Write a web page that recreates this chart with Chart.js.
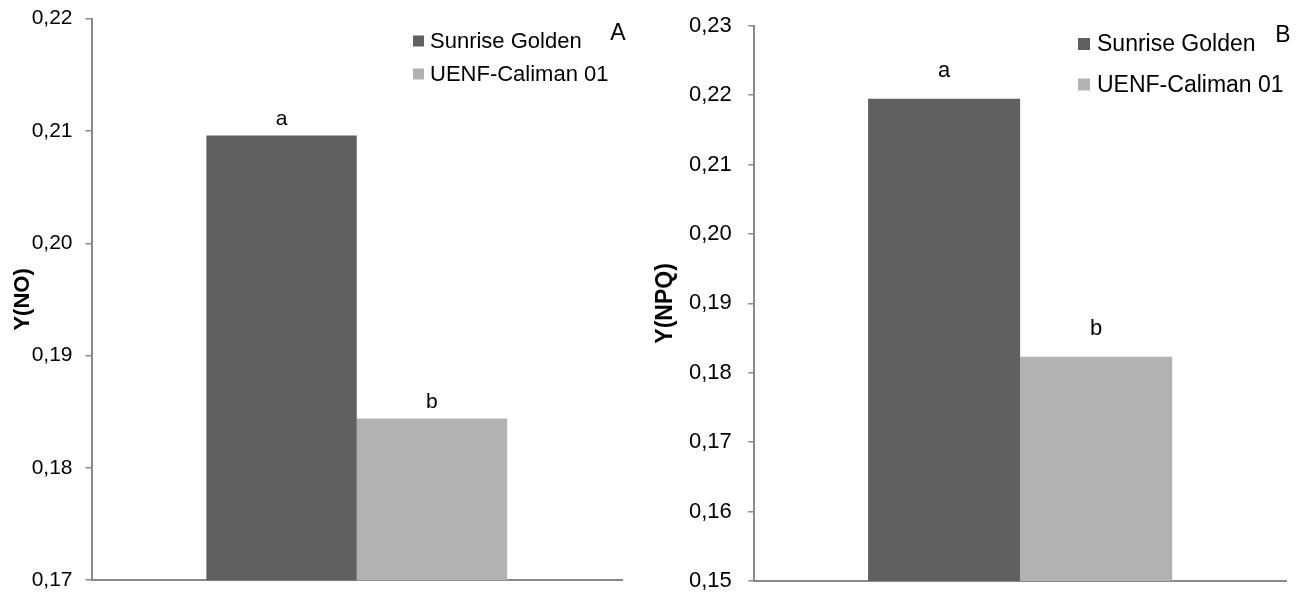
<!DOCTYPE html>
<html>
<head>
<meta charset="utf-8">
<script src="https://cdn.jsdelivr.net/npm/chart.js@4.4.1/dist/chart.umd.min.js"></script>
<style>
  html, body { margin: 0; padding: 0; background: #fff; }
  #wrap { position: relative; width: 1308px; height: 594px; overflow: hidden; }
  .panel { position: absolute; top: 0; width: 654px; height: 594px; }
</style>
</head>
<body>
<div id="wrap">
  <div class="panel" style="left:0"><canvas id="chartA" width="654" height="594"></canvas></div>
  <div class="panel" style="left:654px"><canvas id="chartB" width="654" height="594"></canvas></div>
</div>
<script>
// Genotypes compared in both panels
const categories = [''];
const seriesNames = ['Sunrise Golden', 'UENF-Caliman 01'];
const seriesColors = ['#606060', '#b2b2b2'];
const letters = ['a', 'b'];

// Panel A: Y(NO)
const noSunrise = [0.2096];
const noUenf = [0.1844];
const ticksNO = [0.17, 0.18, 0.19, 0.20, 0.21, 0.22];
const tickLabelsNO = ['0,17', '0,18', '0,19', '0,20', '0,21', '0,22'];

// Panel B: Y(NPQ)
const npqSunrise = [0.2195];
const npqUenf = [0.1823];
const ticksNPQ = [0.15, 0.16, 0.17, 0.18, 0.19, 0.20, 0.21, 0.22, 0.23];
const tickLabelsNPQ = ['0,15', '0,16', '0,17', '0,18', '0,19', '0,20', '0,21', '0,22', '0,23'];

const FONT = '"Liberation Sans", Arial, sans-serif';
Chart.defaults.font.family = FONT;
Chart.defaults.color = '#000';

const AXIS_GREY = '#898989';

// Draws the significance letters above each bar, the legend block and the panel letter
const panelDecor = {
  id: 'panelDecor',
  afterDatasetsDraw(chart, args, opts) {
    const ctx = chart.ctx;
    ctx.save();
    ctx.fillStyle = '#000';
    ctx.textAlign = 'center';
    ctx.textBaseline = 'alphabetic';
    ctx.font = opts.letterFont;
    chart.data.datasets.forEach((ds, i) => {
      const el = chart.getDatasetMeta(i).data[0];
      ctx.fillText(letters[i], el.x, el.y - opts.letterGap);
    });

    // legend
    const lg = opts.legend;
    ctx.textAlign = 'left';
    ctx.textBaseline = 'middle';
    ctx.font = lg.font;
    chart.data.datasets.forEach((ds, i) => {
      const cy = lg.y + i * lg.dy;
      ctx.fillStyle = ds.backgroundColor;
      ctx.fillRect(lg.x, cy - lg.box / 2, lg.box, lg.box);
      ctx.fillStyle = '#000';
      ctx.fillText(ds.label, lg.textX, cy + 1);
    });

    // panel letter
    ctx.textAlign = 'center';
    ctx.font = opts.panel.font;
    ctx.fillText(opts.panel.text, opts.panel.x, opts.panel.y);
    ctx.restore();
  }
};

function noScalePadding(s) {
  s.paddingTop = 0;
  s.paddingBottom = 0;
  s.paddingLeft = 0;
  s.paddingRight = 0;
}

function makeChart(id, cfg) {
  return new Chart(document.getElementById(id), {
    type: 'bar',
    data: {
      labels: categories,
      datasets: [
        { label: seriesNames[0], data: cfg.first, backgroundColor: seriesColors[0] },
        { label: seriesNames[1], data: cfg.second, backgroundColor: seriesColors[1] }
      ]
    },
    options: {
      responsive: false,
      animation: false,
      devicePixelRatio: 1,
      layout: { padding: cfg.padding },
      datasets: { bar: { categoryPercentage: cfg.catPct, barPercentage: 1, borderWidth: 0 } },
      scales: {
        x: {
          ticks: { display: false },
          grid: { display: false },
          border: { color: AXIS_GREY, width: 2 },
          afterFit: s => { s.height = 0; noScalePadding(s); }
        },
        y: {
          min: cfg.ticks[0],
          max: cfg.ticks[cfg.ticks.length - 1],
          afterBuildTicks: s => { s.ticks = cfg.ticks.map(v => ({ value: v })); },
          afterFit: s => { s.width = cfg.axisWidth; noScalePadding(s); },
          ticks: {
            padding: cfg.tickPad,
            color: '#000',
            font: { size: cfg.tickSize },
            callback: (v, i) => cfg.tickLabels[i]
          },
          grid: { drawOnChartArea: false, tickLength: 6, color: AXIS_GREY, lineWidth: 1.5 },
          border: { color: AXIS_GREY, width: 2 },
          title: {
            display: true,
            text: cfg.title,
            color: '#000',
            font: { size: cfg.titleSize, weight: 'bold', lineHeight: 1 },
            padding: { top: cfg.titlePad, bottom: 0 }
          }
        }
      },
      plugins: {
        legend: { display: false },
        tooltip: { enabled: false },
        panelDecor: cfg.decor
      }
    },
    plugins: [panelDecor]
  });
}

makeChart('chartA', {
  first: noSunrise,
  second: noUenf,
  ticks: ticksNO,
  tickLabels: tickLabelsNO,
  title: 'Y(NO)',
  padding: { left: 0, right: 32, top: 18.7, bottom: 13.8 },
  axisWidth: 91.5,
  tickPad: 13,
  tickSize: 21,
  titleSize: 22,
  titlePad: 12,
  catPct: 0.567,
  decor: {
    letterFont: '21px ' + FONT,
    letterGap: 10,
    legend: { x: 413, textX: 430, y: 41, dy: 33, box: 11, font: '22px ' + FONT },
    panel: { text: 'A', x: 618, y: 34, font: '23px ' + FONT }
  }
});

makeChart('chartB', {
  first: npqSunrise,
  second: npqUenf,
  ticks: ticksNPQ,
  tickLabels: tickLabelsNPQ,
  title: 'Y(NPQ)',
  padding: { left: 0, right: 22, top: 25.8, bottom: 13 },
  axisWidth: 100.3,
  tickPad: 16.5,
  tickSize: 22,
  titleSize: 23,
  titlePad: 0,
  catPct: 0.572,
  decor: {
    letterFont: '22px ' + FONT,
    letterGap: 22,
    legend: { x: 424, textX: 443, y: 44, dy: 40.5, box: 12, font: '23px ' + FONT },
    panel: { text: 'B', x: 629, y: 36, font: '23px ' + FONT }
  }
});
</script>
</body>
</html>
